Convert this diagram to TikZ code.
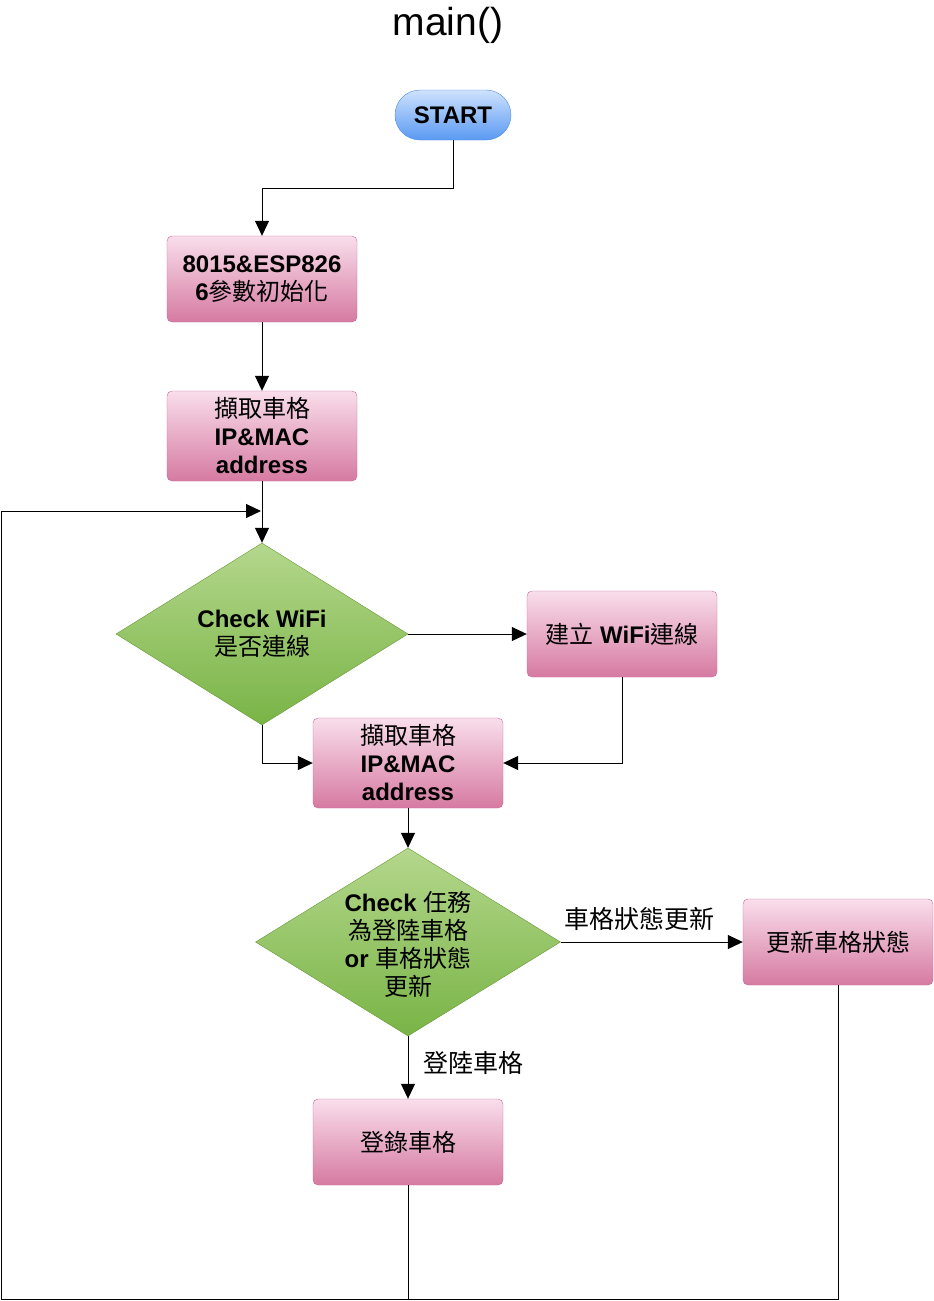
\documentclass[tikz,border=0pt]{standalone}
\usepackage{fontspec}
\setmainfont{Liberation Sans}
\newfontfamily\cjk{Noto Sans CJK TC}
\usetikzlibrary{shapes.geometric,arrows.meta}
\newcommand{\zh}[1]{{\normalfont\cjk #1}}
\definecolor{bluetop}{RGB}{206,226,253}
\definecolor{bluebot}{RGB}{90,153,242}
\definecolor{blueline}{RGB}{74,140,232}
\definecolor{pinktop}{RGB}{249,222,235}
\definecolor{pinkbot}{RGB}{214,122,162}
\definecolor{pinkline}{RGB}{200,104,152}
\definecolor{greentop}{RGB}{180,215,140}
\definecolor{greenbot}{RGB}{121,180,70}
\definecolor{greenline}{RGB}{104,152,56}

\begin{document}
\begin{tikzpicture}[x=1pt,y=-1pt,
    	txt/.style={font=\fontsize{24}{28}\selectfont\bfseries, align=center},
    	terminal/.style={txt, rectangle, rounded corners=25pt, draw=blueline,
    		top color=bluetop, bottom color=bluebot,
    		minimum width=116pt, minimum height=50pt, inner sep=0pt},
    	process/.style={txt, rectangle, rounded corners=5pt, draw=pinkline,
    		top color=pinktop, bottom color=pinkbot,
    		minimum width=190pt, minimum height=86pt, inner sep=1pt},
    	decision/.style={diamond, draw=greenline, top color=greentop, bottom color=greenbot,
    		inner sep=0pt},
    	flow/.style={draw, line width=1pt, -{Triangle[length=15pt,width=14pt]}},
    	line/.style={draw, line width=1pt},
    	lbl/.style={font=\fontsize{25}{28}\selectfont\cjk}
    ]
    	\useasboundingbox (0,0) rectangle (934,1301);

    	\node[font=\fontsize{39}{42}\selectfont] (title) at (448,25) {main()};

    	\node[terminal] (start) at (453,115) {START};
    	\node[process] (init) at (262,279) {8015\&ESP826\\6\zh{參數初始化}};
    	\node[process, minimum height=90pt] (fetch1) at (262,436) {\zh{擷取車格}\\IP\&MAC\\address};

    	\node[decision, minimum width=292pt, minimum height=182pt] (chk1) at (262,634) {};
    	\node[txt] (chk1txt) at (chk1) {Check WiFi\\\zh{是否連線}};
    	\node[process] (wifi) at (622,634) {\zh{建立} WiFi\zh{連線}};
    	\node[process, minimum height=90pt] (fetch2) at (408,763) {\zh{擷取車格}\\IP\&MAC\\address};

    	\node[decision, minimum width=305pt, minimum height=188pt] (chk2) at (408,942) {};
    	\node[txt] (chk2txt) at (408,944) {Check \zh{任務}\\\zh{為登陸車格}\\or \zh{車格狀態}\\\zh{更新}};
    	\node[process] (upd) at (838,942) {\zh{更新車格狀態}};
    	\node[process] (reg) at (408,1142) {\zh{登錄車格}};

    	\coordinate (bot) at (1,1299);
    	\coordinate (top) at (1,511);
    	\coordinate (back) at (261,511);

    	\draw[flow] (start.south) -- ++(0,48) -| (init.north);
    	\draw[flow] (init) -- (fetch1);
    	\draw[flow] (fetch1) -- (chk1.north);
    	\draw[flow] (chk1.east) -- (wifi.west);
    	\draw[flow] (chk1.south) |- (fetch2.west);
    	\draw[flow] (wifi.south) |- (fetch2.east);
    	\draw[flow] (fetch2) -- (chk2.north);
    	\draw[flow] (chk2.east) -- node[lbl, above=8pt, xshift=-12pt] (lblupd) {車格狀態更新} (upd.west);
    	\draw[flow] (chk2.south) -- node[lbl, right=12pt, yshift=4pt] (lblreg) {登陸車格} (reg.north);
    	\draw[flow] (reg.south) |- (bot) -- (top) -- (back);
    	\draw[line] (upd.south) |- (reg.south |- bot);
\end{tikzpicture}
\end{document}
